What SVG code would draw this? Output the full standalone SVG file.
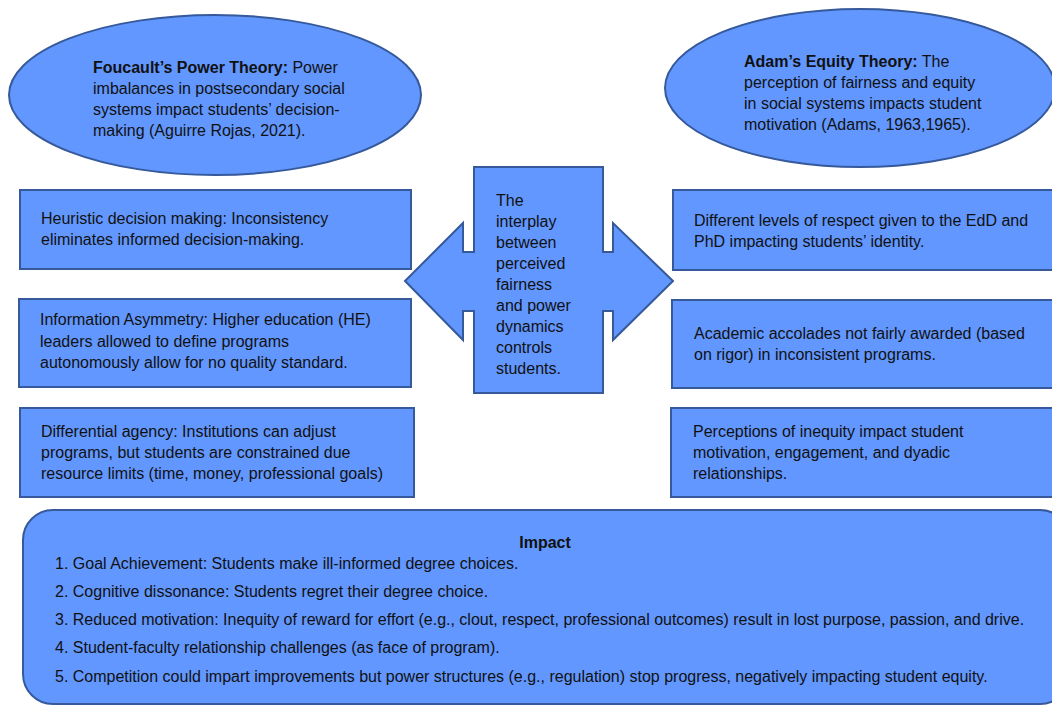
<svg xmlns="http://www.w3.org/2000/svg" width="1052" height="706" viewBox="0 0 1052 706">
<style>
.s{fill:#6297FF;stroke:#35599A;stroke-width:2}
text{font-family:"Liberation Sans",Arial,sans-serif;font-size:16px;fill:#111}
.b{font-weight:bold}
.i{font-size:16px}
</style>
<rect width="1052" height="706" fill="#fff"/>
<g id="foucault">
<ellipse class="s" cx="215" cy="95" rx="206" ry="80"/>
<text x="93" y="73"><tspan class="b">Foucault’s Power Theory:</tspan> Power</text>
<text x="93" y="94">imbalances in postsecondary social</text>
<text x="93" y="115">systems impact students’ decision-</text>
<text x="93" y="136">making (Aguirre Rojas, 2021).</text>
</g>
<g id="adams">
<ellipse class="s" cx="860" cy="88" rx="195" ry="79"/>
<text x="744" y="67"><tspan class="b">Adam’s Equity Theory:</tspan> The</text>
<text x="744" y="88">perception of fairness and equity</text>
<text x="744" y="109">in social systems impacts student</text>
<text x="744" y="130">motivation (Adams, 1963,1965).</text>
</g>
<g id="center">
<polygon class="s" points="474,167 603,167 603,252 613,252 613,223 673,281 613,340 613,311 603,311 603,393 474,393 474,311 463,311 463,340 405,281 463,223 463,252 474,252"/>
<text x="496" y="206">The</text>
<text x="496" y="227">interplay</text>
<text x="496" y="248">between</text>
<text x="496" y="269">perceived</text>
<text x="496" y="290">fairness</text>
<text x="496" y="311">and power</text>
<text x="496" y="332">dynamics</text>
<text x="496" y="353">controls</text>
<text x="496" y="374">students.</text>
</g>
<g id="heuristic">
<rect class="s" x="20" y="190" width="391" height="79"/>
<text x="41" y="224">Heuristic decision making: Inconsistency</text>
<text x="41" y="245">eliminates informed decision-making.</text>
</g>
<g id="asymmetry">
<rect class="s" x="19" y="299" width="392" height="88"/>
<text x="40" y="325">Information Asymmetry: Higher education (HE)</text>
<text x="40" y="347">leaders allowed to define programs</text>
<text x="40" y="368">autonomously allow for no quality standard.</text>
</g>
<g id="agency">
<rect class="s" x="20" y="408" width="394" height="89"/>
<text x="41" y="437">Differential agency: Institutions can adjust</text>
<text x="41" y="458">programs, but students are constrained due</text>
<text x="41" y="479">resource limits (time, money, professional goals)</text>
</g>
<g id="respect">
<rect class="s" x="673" y="190" width="390" height="80"/>
<text x="694" y="226">Different levels of respect given to the EdD and</text>
<text x="694" y="247">PhD impacting students’ identity.</text>
</g>
<g id="accolades">
<rect class="s" x="672" y="300" width="390" height="88"/>
<text x="694" y="339">Academic accolades not fairly awarded (based</text>
<text x="694" y="360">on rigor) in inconsistent programs.</text>
</g>
<g id="inequity">
<rect class="s" x="671" y="408" width="390" height="89"/>
<text x="693" y="437">Perceptions of inequity impact student</text>
<text x="693" y="458">motivation, engagement, and dyadic</text>
<text x="693" y="479">relationships.</text>
</g>
<g id="impact">
<rect class="s" x="23" y="510" width="1047" height="194" rx="30" ry="30"/>
<text class="i b" x="545" y="548" text-anchor="middle">Impact</text>
<text class="i" x="55" y="569">1. Goal Achievement: Students make ill-informed degree choices.</text>
<text class="i" x="55" y="597">2. Cognitive dissonance: Students regret their degree choice.</text>
<text class="i" x="55" y="625">3. Reduced motivation: Inequity of reward for effort (e.g., clout, respect, professional outcomes) result in lost purpose, passion, and drive.</text>
<text class="i" x="55" y="653">4. Student-faculty relationship challenges (as face of program).</text>
<text class="i" x="55" y="682">5. Competition could impart improvements but power structures (e.g., regulation) stop progress, negatively impacting student equity.</text>
</g>
<g id="connectors"></g>
</svg>
